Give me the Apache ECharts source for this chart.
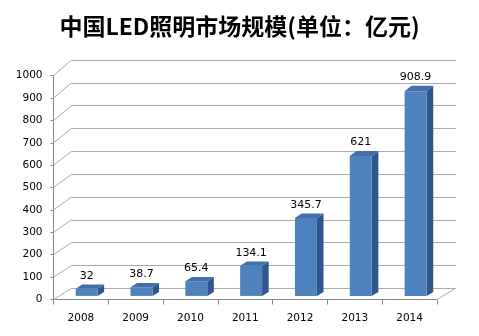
<!DOCTYPE html>
<html>
<head>
<meta charset="utf-8">
<title>中国LED照明市场规模</title>
<script src="https://cdn.jsdelivr.net/npm/echarts@6/dist/echarts.min.js"></script>
<style>
  html, body { margin: 0; padding: 0; background: #fff; }
  #chart { width: 479px; height: 336px; }
</style>
</head>
<body>
<div id="chart"></div>
<script>
// Market size by year (unit: 亿元)
const years = ['2008', '2009', '2010', '2011', '2012', '2013', '2014'];
const values = [32, 38.7, 65.4, 134.1, 345.7, 621, 908.9];
const yMin = 0;
const yMax = 1000;
const yStep = 100;

// Box layout: front plane carries the axes, back plane carries the gridlines
const W = 479, H = 336;
const FRONT = { left: 53.5, right: 437, top: 75.7, bottom: 299.5 };
const BACK = { left: 71.5, right: 455.7, top: 60, bottom: 288.3 };
const BAR_FRONT = 0.32, BAR_BACK = 0.68, BAR_WIDTH = 0.4;

const AXIS_COLOR = '#8a8a8a';
const GRID_COLOR = '#ababab';
const FACE = '#4f81bd', TOP = '#4070aa', SIDE = '#30578b';
const FONT = 'DejaVu Sans, Verdana, sans-serif';

const chart = echarts.init(document.getElementById('chart'), null, { renderer: 'canvas' });

const baseOption = {
  animation: false,
  title: {
    text: '中国LED照明市场规模(单位：亿元)',
    left: 'center',
    top: 10,
    textStyle: { fontFamily: 'Noto Sans CJK SC', fontWeight: 'bold', fontSize: 23, color: '#000' }
  },
  grid: [
    { left: FRONT.left, right: W - FRONT.right, top: FRONT.top, bottom: H - FRONT.bottom },
    { left: BACK.left, right: W - BACK.right, top: BACK.top, bottom: H - BACK.bottom }
  ],
  xAxis: [
    {
      gridIndex: 0, type: 'category', data: years, boundaryGap: true,
      axisLine: { show: true, lineStyle: { color: AXIS_COLOR, width: 1 } },
      axisTick: { show: true, interval: 0, length: 5, lineStyle: { color: AXIS_COLOR } },
      axisLabel: { margin: 13, color: '#000', fontFamily: FONT, fontSize: 10.5 },
      splitLine: { show: false }
    },
    {
      gridIndex: 1, type: 'category', data: years, boundaryGap: true, show: false
    }
  ],
  yAxis: [
    {
      gridIndex: 0, type: 'value', min: yMin, max: yMax, interval: yStep,
      axisLine: { show: true, lineStyle: { color: AXIS_COLOR, width: 1 } },
      axisTick: { show: true, length: 3, lineStyle: { color: AXIS_COLOR } },
      axisLabel: {
        margin: 11, color: '#000', fontFamily: FONT, fontSize: 10.5,
        formatter: v => String(v)
      },
      splitLine: { show: false }
    },
    {
      gridIndex: 1, type: 'value', min: yMin, max: yMax, interval: yStep,
      axisLine: { show: false }, axisTick: { show: false }, axisLabel: { show: false },
      splitLine: { show: true, lineStyle: { color: GRID_COLOR, width: 1 } }
    }
  ],
  series: []
};

chart.setOption(baseOption);

// Back-plane scale
const bY0 = chart.convertToPixel({ yAxisIndex: 1 }, yMin);
const bY1 = chart.convertToPixel({ yAxisIndex: 1 }, yMax);
const bX0 = chart.convertToPixel({ xAxisIndex: 1 }, 0);
const bXn = chart.convertToPixel({ xAxisIndex: 1 }, years.length - 1);
function backPoint(i, v) {
  return [
    bX0 + i * (bXn - bX0) / (years.length - 1),
    bY0 + (v - yMin) * (bY1 - bY0) / (yMax - yMin)
  ];
}
function lerp(a, b, t) { return [a[0] + (b[0] - a[0]) * t, a[1] + (b[1] - a[1]) * t]; }

// Left wall and floor edges joining the two planes
const fY = v => chart.convertToPixel({ yAxisIndex: 0 }, v);
const wallLines = [];
for (let v = yMin; v <= yMax; v += yStep) {
  wallLines.push({
    type: 'line', z: 1, silent: true,
    shape: { x1: FRONT.left, y1: fY(v), x2: BACK.left, y2: backPoint(0, v)[1] },
    style: { stroke: GRID_COLOR, lineWidth: 1 }
  });
}
wallLines.push({
  type: 'line', z: 1, silent: true,
  shape: { x1: FRONT.right, y1: fY(yMin), x2: BACK.right, y2: backPoint(0, yMin)[1] },
  style: { stroke: GRID_COLOR, lineWidth: 1 }
});

function renderBar(params, api) {
  const i = api.value(0);
  const v = api.value(1);
  const hw = api.size([1, 0])[0] * BAR_WIDTH / 2;
  const fTop = api.coord([i, v]);
  const fBot = api.coord([i, yMin]);
  const bTop = backPoint(i, v);
  const bBot = backPoint(i, yMin);
  const nT = lerp(fTop, bTop, BAR_FRONT), nB = lerp(fBot, bBot, BAR_FRONT);
  const rT = lerp(fTop, bTop, BAR_BACK), rB = lerp(fBot, bBot, BAR_BACK);
  const front = [[nT[0] - hw, nT[1]], [nT[0] + hw, nT[1]], [nB[0] + hw, nB[1]], [nB[0] - hw, nB[1]]];
  const top = [[nT[0] - hw, nT[1]], [nT[0] + hw, nT[1]], [rT[0] + hw, rT[1]], [rT[0] - hw, rT[1]]];
  const side = [[nT[0] + hw, nT[1]], [rT[0] + hw, rT[1]], [rB[0] + hw, rB[1]], [nB[0] + hw, nB[1]]];
  return {
    type: 'group',
    children: [
      { type: 'polygon', shape: { points: side }, style: { fill: SIDE } },
      { type: 'polygon', shape: { points: top }, style: { fill: TOP } },
      { type: 'polygon', shape: { points: front }, style: { fill: FACE } },
      {
        type: 'text',
        style: {
          text: String(v), x: nT[0], y: rT[1] - 3,
          align: 'center', verticalAlign: 'bottom',
          fontFamily: FONT, fontSize: 11, fill: '#000'
        }
      }
    ]
  };
}

chart.setOption({
  graphic: { elements: wallLines },
  series: [{
    type: 'custom',
    xAxisIndex: 0, yAxisIndex: 0,
    renderItem: renderBar,
    data: values.map((v, i) => [i, v]),
    z: 3
  }]
});
</script>
</body>
</html>
